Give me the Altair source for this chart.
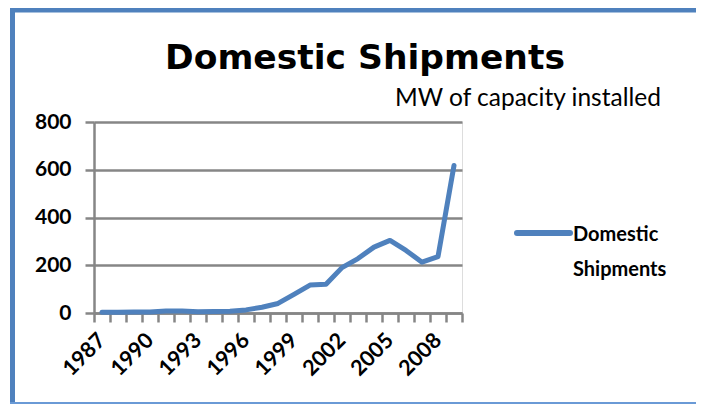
import altair as alt
import pandas as pd

# ---- data ----
years = list(range(1987, 2010))
shipments = [3, 3, 4, 4, 8, 8, 5, 6, 7, 13, 24, 40, 78, 117, 120, 190, 228, 276, 304, 262, 213, 236, 618]
y_ticks = [0, 200, 400, 600, 800]
x_tick_positions = [y - 0.5 for y in range(1987, 2011)]
series_name = "Domestic Shipments"
title_text = "Domestic Shipments"
subtitle_text = "MW of capacity installed"

BLUE = "#4F81BD"
GRAY = "#868686"
FONT = "Lato"
W, H = 368, 191
band = W / len(years)

df = pd.DataFrame({"year": years, "shipments": shipments, "series": series_name})

line = alt.Chart(df).mark_line(color=BLUE, strokeWidth=5, strokeJoin="round", strokeCap="round").encode(
    x=alt.X(
        "year:Q",
        scale=alt.Scale(domain=[1986.5, 2009.5], nice=False, zero=False),
        axis=alt.Axis(
            values=x_tick_positions,
            labelExpr="(datum.value + 0.5 - 1987) % 3 == 0 ? format(datum.value + 0.5, 'd') : ''",
            labelAngle=-45,
            labelAlign="right",
            labelBaseline="middle",
            labelOffset=band / 2,
            labelPadding=15,
            labelOverlap=False,
            labelFlush=False,
            labelBound=False,
            labelFont=FONT,
            labelFontWeight="bold",
            labelFontSize=21.5,
            labelColor="black",
            tickSize=9,
            tickWidth=2.5,
            tickColor=GRAY,
            domainColor=GRAY,
            domainWidth=2.5,
            grid=False,
            title=None,
        ),
    ),
    y=alt.Y(
        "shipments:Q",
        scale=alt.Scale(domain=[0, 800], nice=False),
        axis=alt.Axis(
            values=y_ticks,
            labelFont=FONT,
            labelFontWeight="bold",
            labelFontSize=21,
            labelColor="black",
            labelPadding=14,
            tickSize=9,
            tickWidth=2.5,
            tickColor=GRAY,
            domainColor=GRAY,
            domainWidth=2.5,
            grid=True,
            gridColor=GRAY,
            gridWidth=2.5,
            title=None,
        ),
    ),
)

sub_df = pd.DataFrame({"t": [subtitle_text]})
subtitle = alt.Chart(sub_df).mark_text(
    align="left", baseline="middle", font=FONT, fontSize=24.5, color="black"
).encode(x=alt.value(301), y=alt.value(-23), text="t:N")

# manual legend
leg_df = pd.DataFrame({"t": [series_name]})
leg_line = alt.Chart(leg_df).mark_rule(color=BLUE, strokeWidth=6, strokeCap="round").encode(
    x=alt.value(423), x2=alt.value(476), y=alt.value(111)
)
leg_text = alt.Chart(leg_df).mark_text(
    align="left", baseline="alphabetic", font=FONT, fontSize=20, fontWeight="bold",
    lineBreak=" ", lineHeight=35, color="black"
).encode(x=alt.value(479), y=alt.value(119), text="t:N")

# frame border
border_left = alt.Chart(leg_df).mark_rule(color=BLUE, strokeWidth=5).encode(
    x=alt.value(-81.5), y=alt.value(-116), y2=alt.value(284)
)
border_top = alt.Chart(leg_df).mark_rule(color=BLUE, strokeWidth=6).encode(
    x=alt.value(-84), x2=alt.value(620), y=alt.value(-112.5)
)
border_bottom = alt.Chart(leg_df).mark_rule(color="#6A9AD6", strokeWidth=2).encode(
    x=alt.value(-84), x2=alt.value(620), y=alt.value(281)
)

chart = alt.layer(
    line, subtitle, leg_line, leg_text, border_left, border_top, border_bottom
).properties(
    width=W,
    height=H,
    title=alt.TitleParams(
        title_text, font="DejaVu Sans", fontSize=34.5, fontWeight="bold", color="black",
        anchor="middle", frame="group", dx=87, offset=0, dy=100, baseline="alphabetic",
    ),
    autosize=alt.AutoSizeParams(type="none"),
    padding={"left": 86, "top": 114, "right": 234, "bottom": 91},
).configure_view(stroke=None).configure(background="white")

chart.save("out.html", embed_options={"renderer": "svg", "actions": False})
